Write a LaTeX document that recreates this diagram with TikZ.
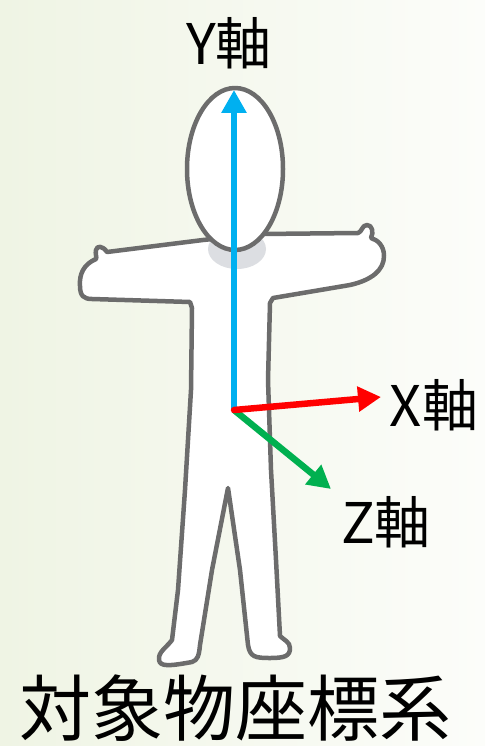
\documentclass[tikz,border=0pt]{standalone}
\usepackage{fontspec}
\newfontfamily\jpfont{Noto Sans CJK JP}
\usetikzlibrary{arrows.meta,shapes.geometric}
\definecolor{bgleft}{HTML}{EFF4E4}
\definecolor{bgright}{HTML}{FCFDFA}
\definecolor{outline}{HTML}{6C6C6C}
\definecolor{neckshade}{HTML}{DCDEE2}
\definecolor{yaxis}{HTML}{00B0F0}
\definecolor{xaxis}{HTML}{FF0000}
\definecolor{zaxis}{HTML}{00B050}
\tikzset{
  axisline/.style={line width=6.5pt, -{Triangle[length=23pt,width=24pt]}},
  axislabel/.style={font=\jpfont\fontsize{56}{56}\selectfont, inner sep=0pt},
  figline/.style={draw=outline, line width=4.5pt, line join=round, fill=white},
}
\begin{document}
\begin{tikzpicture}[x=1pt,y=-1pt]
  % canvas
  \useasboundingbox (0,0) rectangle (485,746);
  \shade[left color=bgleft, right color=bgright] (0,0) rectangle (485,746);

  % body silhouette
  \def\bodypath{
    (203,240) -- (107,252)
    .. controls (103,246) and (97,245) .. (96,250)
    .. controls (95,254) and (97,257) .. (96,259)
    .. controls (84,264) and (79,274) .. (80,286)
    .. controls (80,296) and (84,299) .. (92,299)
    -- (190,302) -- (192,308)
    -- (191,390) -- (185,490) -- (178,590) -- (172,640)
    .. controls (166,648) and (158,652) .. (159,660)
    .. controls (160,667) and (170,666) .. (192,662)
    .. controls (198,660) and (199,655) .. (200,645)
    -- (212,570) -- (228,488)
    -- (240,570) -- (248,645)
    .. controls (250,657) and (255,658) .. (270,658)
    .. controls (285,658) and (290,656) .. (290,648)
    .. controls (290,642) and (284,640) .. (280,636)
    -- (276,560) -- (271,470) -- (268,380) -- (270,303)
    -- (273,298) -- (350,285)
    .. controls (372,280) and (384,270) .. (384,256)
    .. controls (384,246) and (378,240) .. (371,238)
    .. controls (374,232) and (372,225) .. (367,225)
    .. controls (362,225) and (362,232) .. (358,233)
    -- (262,234) -- cycle
  }
  \path[figline] \bodypath;
  \begin{scope}
    \clip \bodypath;
    \fill[neckshade] (237,249) ellipse [x radius=29pt, y radius=20pt];
  \end{scope}

  % head
  \node[figline, ellipse, minimum width=96pt, minimum height=162pt, inner sep=0pt]
    (head) at (235,169) {};

  % coordinate axes
  \coordinate (origin) at (234,410);
  \coordinate (ytip) at (234,90);
  \coordinate (xtip) at (381,397);
  \coordinate (ztip) at (331,489);
  \draw[axisline, yaxis] (origin) -- (ytip);
  \draw[axisline, zaxis] (origin) -- (ztip);
  \draw[axisline, xaxis, line cap=round] (origin) -- (xtip);

  % axis labels
  \node[axislabel] (ylabel) at (229,43) {Y軸};
  \node[axislabel] (xlabel) at (434,405) {X軸};
  \node[axislabel] (zlabel) at (386,522) {Z軸};

  % caption
  \node[font=\jpfont\fontsize{72}{72}\selectfont, inner sep=0pt]
    (caption) at (235,708) {対象物座標系};
\end{tikzpicture}
\end{document}
